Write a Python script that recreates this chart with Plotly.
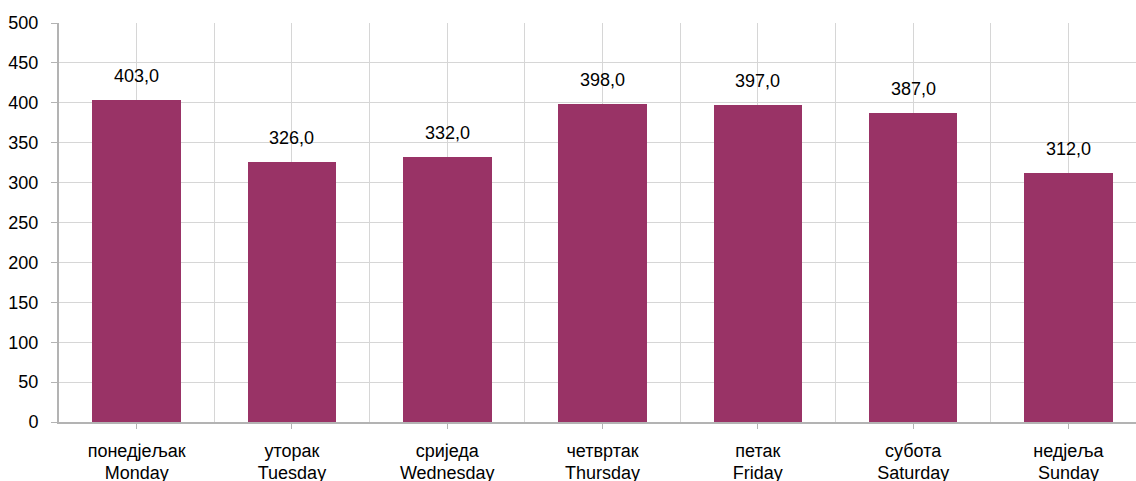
import plotly.graph_objects as go

days_local = ["понедјељак", "уторак", "сриједа", "четвртак", "петак", "субота", "недјеља"]
days_en = ["Monday", "Tuesday", "Wednesday", "Thursday", "Friday", "Saturday", "Sunday"]
values = [403.0, 326.0, 332.0, 398.0, 397.0, 387.0, 312.0]
y_ticks = [0, 50, 100, 150, 200, 250, 300, 350, 400, 450, 500]

BAR = "#993366"
GRID = "#d6d6d6"
AXIS = "#b3b3b3"
FONT = "Liberation Sans, Arial, sans-serif"
FS = 18

xs = list(range(len(values)))
XR = [-0.5, 6.435]

fig = go.Figure()
fig.add_trace(go.Bar(x=xs, y=values, marker=dict(color=BAR, line=dict(width=0)),
                     width=0.57, hoverinfo="skip"))
# invisible helper trace for the second (English) label axis
fig.add_trace(go.Scatter(x=xs, y=[0] * len(xs), xaxis="x2", mode="markers",
                         marker=dict(opacity=0), hoverinfo="skip"))

for x, v in zip(xs, values):
    fig.add_annotation(x=x, y=v, text=f"{v:.1f}".replace(".", ","), showarrow=False,
                       yanchor="bottom", yshift=12, font=dict(size=FS, color="#000000", family=FONT))

fig.update_layout(
    width=1136, height=481,
    margin=dict(l=59, r=0, t=23, b=59),
    paper_bgcolor="white", plot_bgcolor="white",
    font=dict(family=FONT, size=FS, color="#000000"),
    showlegend=False,
    bargap=0,
    xaxis=dict(
        range=XR,
        tickmode="array", tickvals=xs, ticktext=days_local,
        showgrid=True, gridcolor=GRID, gridwidth=1,
        showline=True, linecolor=AXIS, linewidth=2,
        ticks="outside", ticklen=5, tickcolor=AXIS, tickwidth=1,
        ticklabelstandoff=6,
        minor=dict(tickmode="linear", tick0=-0.5, dtick=1, showgrid=True, gridcolor=GRID, gridwidth=1, ticks=""),
        zeroline=False, fixedrange=True, automargin=False,
    ),
    xaxis2=dict(
        range=XR, overlaying="x", anchor="y", side="bottom",
        tickmode="array", tickvals=xs, ticktext=days_en,
        showgrid=False, showline=False, ticks="",
        ticklabelstandoff=38,
        zeroline=False, fixedrange=True, automargin=False,
    ),
    yaxis=dict(
        range=[0, 500],
        tickmode="array", tickvals=y_ticks,
        showgrid=True, gridcolor=GRID, gridwidth=1,
        showline=True, linecolor=AXIS, linewidth=2,
        ticks="outside", ticklen=6, tickcolor=AXIS, tickwidth=1,
        ticklabelstandoff=9,
        zeroline=False, fixedrange=True, automargin=False,
    ),
)

fig.write_html("out.html", config={"displayModeBar": False, "staticPlot": True},
               post_script="document.body.style.margin='0';document.body.style.overflow='hidden';")
